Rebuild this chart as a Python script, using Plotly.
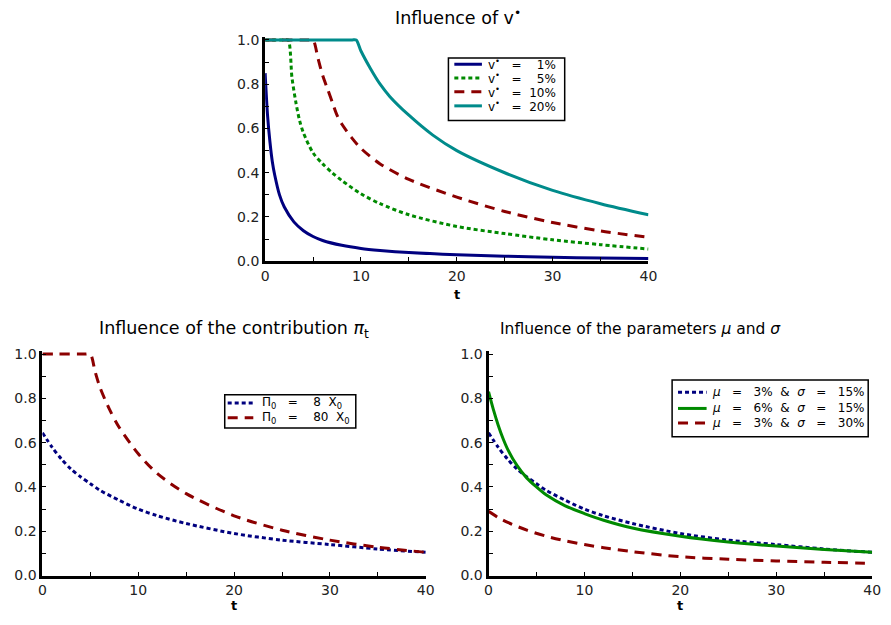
import plotly.graph_objects as go

# ---------------- data ----------------
# Top panel: influence of v*
t_v1 = [0, 0.25, 0.5, 0.75, 1, 1.5, 2, 3, 4, 5, 6, 8, 10, 12, 15, 20, 25, 30, 35, 40]
y_v1 = [0.85, 0.66, 0.54, 0.45, 0.39, 0.30, 0.245, 0.178, 0.138, 0.112, 0.094, 0.072,
        0.058, 0.049, 0.039, 0.029, 0.023, 0.018, 0.015, 0.012]
t_v5 = [0, 2.0, 2.4, 2.8, 3.2, 3.6, 4, 5, 6, 7, 8, 10, 12, 15, 20, 25, 30, 35, 40]
y_v5 = [1, 1, 1, 0.83, 0.72, 0.635, 0.58, 0.49, 0.44, 0.40, 0.365, 0.305, 0.26, 0.21,
        0.157, 0.125, 0.097, 0.075, 0.055]
t_v10 = [0, 4.5, 5.0, 5.5, 6, 6.5, 7, 7.5, 8, 9, 10, 12, 15, 20, 25, 30, 35, 40]
y_v10 = [1, 1, 1, 0.92, 0.84, 0.78, 0.72, 0.66, 0.62, 0.56, 0.51, 0.44, 0.37, 0.29,
         0.225, 0.175, 0.137, 0.108]
t_v20 = [0, 9, 9.5, 10, 11, 12, 13, 15, 17.5, 20, 25, 30, 35, 40]
y_v20 = [1, 1, 1, 0.95, 0.87, 0.80, 0.745, 0.66, 0.57, 0.5, 0.4, 0.32, 0.26, 0.21]

# Bottom-left: influence of the contribution
t_p8 = [0, 1, 2, 3, 4, 5, 6, 8, 10, 12, 15, 20, 25, 30, 35, 40]
y_p8 = [0.645, 0.58, 0.525, 0.48, 0.445, 0.415, 0.385, 0.34, 0.30, 0.27, 0.235, 0.19,
        0.16, 0.14, 0.12, 0.105]
t_p80 = [0, 4.5, 5, 5.5, 6, 7, 8, 10, 12, 15, 20, 25, 30, 35, 40]
y_p80 = [1, 1, 1, 0.92, 0.85, 0.75, 0.67, 0.55, 0.46, 0.37, 0.27, 0.205, 0.16, 0.128, 0.105]

# Bottom-right: influence of mu and sigma
t_m3s15 = t_p8
y_m3s15 = y_p8
t_m6s15 = [0, 0.5, 1, 1.5, 2, 3, 4, 5, 6, 8, 10, 12, 15, 20, 25, 30, 35, 40]
y_m6s15 = [0.83, 0.75, 0.68, 0.62, 0.57, 0.495, 0.44, 0.40, 0.365, 0.315, 0.28, 0.25,
           0.215, 0.178, 0.152, 0.133, 0.118, 0.105]
t_m3s30 = [0, 1, 2, 4, 6, 8, 10, 12, 15, 20, 25, 30, 35, 40]
y_m3s30 = [0.29, 0.262, 0.24, 0.205, 0.178, 0.157, 0.14, 0.126, 0.108, 0.085, 0.074,
           0.066, 0.06, 0.055]

x_ticks = [0, 10, 20, 30, 40]
y_ticks = [0.0, 0.2, 0.4, 0.6, 0.8, 1.0]
y_ticklabels = ["0.0", "0.2", "0.4", "0.6", "0.8", "1.0"]

NB = "\u00a0"
FS = "\u2007"  # figure space (digit width)
S2, S3 = NB * 2, NB * 3
legend_top = ["v<sup>•</sup>" + S3 + "=" + S2 + FS + "1%",
              "v<sup>•</sup>" + S3 + "=" + S2 + FS + "5%",
              "v<sup>•</sup>" + S3 + "=" + S2 + "10%",
              "v<sup>•</sup>" + S3 + "=" + S2 + "20%"]
legend_left = ["Π<sub>0</sub>" + S3 + "=" + S3 + NB + "8" + S2 + "X<sub>0</sub>",
               "Π<sub>0</sub>" + S3 + "=" + S3 + NB + "80" + S2 + "X<sub>0</sub>"]
legend_right = ["<i>μ</i>" + S3 + "=" + S3 + "3%" + S2 + "&" + S2 + "<i>σ</i>" + S3 + "=" + S3 + "15%",
                "<i>μ</i>" + S3 + "=" + S3 + "6%" + S2 + "&" + S2 + "<i>σ</i>" + S3 + "=" + S3 + "15%",
                "<i>μ</i>" + S3 + "=" + S3 + "3%" + S2 + "&" + S2 + "<i>σ</i>" + S3 + "=" + S3 + "30%"]

NAVY = "#00007f"
GREEN = "#008a00"
DARKRED = "#8b0000"
TEAL = "#008b8b"
DOT = "4px,3px"
DASH = "10px,7px"
FONT = "DejaVu Sans"
W, H = 891, 625

fig = go.Figure()


def add(x, y, name, color, dash, xa, ya):
    fig.add_trace(go.Scatter(
        x=x, y=y, name=name, mode="lines", showlegend=False,
        line=dict(color=color, width=3, dash=dash, shape="spline", smoothing=0.8),
        xaxis=xa, yaxis=ya))


top_series = [(t_v1, y_v1, NAVY, "solid"), (t_v5, y_v5, GREEN, DOT),
              (t_v10, y_v10, DARKRED, DASH), (t_v20, y_v20, TEAL, "solid")]
left_series = [(t_p8, y_p8, NAVY, DOT), (t_p80, y_p80, DARKRED, DASH)]
right_series = [(t_m3s15, y_m3s15, NAVY, DOT), (t_m6s15, y_m6s15, GREEN, "solid"),
                (t_m3s30, y_m3s30, DARKRED, DASH)]

for (x, y, c, d), name in zip(top_series, legend_top):
    add(x, y, name, c, d, "x", "y")
for (x, y, c, d), name in zip(left_series, legend_left):
    add(x, y, name, c, d, "x2", "y2")
for (x, y, c, d), name in zip(right_series, legend_right):
    add(x, y, name, c, d, "x3", "y3")


def xax(x0, x1, anchor):
    return dict(domain=[x0 / W, x1 / W], range=[0, 40], showgrid=False, zeroline=False,
                showline=True, linecolor="black", linewidth=3, ticks="inside", ticklen=4,
                tickwidth=1.2, tickcolor="black", tickvals=x_ticks, anchor=anchor,
                minor=dict(ticks="inside", tickvals=[5, 15, 25, 35], ticklen=4,
                           tickwidth=1.2, tickcolor="black"),
                tickfont=dict(family=FONT, size=14, color="#222"), fixedrange=True)


def yax(y0px, y1px, anchor):
    per = y0px - y1px
    top = y1px - 0.012 * per
    return dict(domain=[1 - y0px / H, 1 - top / H], range=[0, 1.012], showgrid=False,
                zeroline=False, showline=True, linecolor="black", linewidth=3,
                ticks="inside", ticklen=4, tickwidth=1.2, tickcolor="black",
                tickvals=y_ticks, ticktext=y_ticklabels,
                minor=dict(ticks="inside", tickvals=[0.1, 0.3, 0.5, 0.7, 0.9], ticklen=4,
                           tickwidth=1.2, tickcolor="black"),
                tickfont=dict(family=FONT, size=14, color="#222"), anchor=anchor,
                fixedrange=True)


fig.update_layout(
    width=W, height=H, margin=dict(l=0, r=0, t=0, b=0),
    plot_bgcolor="white", paper_bgcolor="white", showlegend=False,
    xaxis=xax(265, 654, "y"), yaxis=yax(261.7, 35.7, "x"),
    xaxis2=xax(39, 428, "y2"), yaxis2=yax(582.7, 356.5, "x2"),
    xaxis3=xax(491.7, 881, "y3"), yaxis3=yax(582.7, 356.5, "x3"),
)


def px(x):
    return x / W


def py(y):
    return 1 - y / H


# ---- legends drawn as boxes, sample lines and labels ----
def draw_legend(box, rows, sample_x, text_x, series, labels):
    x0, y0, x1, y1 = box
    fig.add_shape(type="rect", xref="paper", yref="paper", x0=px(x0), x1=px(x1),
                  y0=py(y1), y1=py(y0), line=dict(color="black", width=1.5),
                  fillcolor="white", layer="above")
    for yr, (x, y, c, d), lab in zip(rows, series, labels):
        fig.add_shape(type="line", xref="paper", yref="paper", x0=px(sample_x[0]),
                      x1=px(sample_x[1]), y0=py(yr), y1=py(yr),
                      line=dict(color=c, width=3, dash=d), layer="above")
        fig.add_annotation(text=lab, xref="paper", yref="paper", x=px(text_x), y=py(yr),
                           xanchor="left", yanchor="middle", showarrow=False,
                           font=dict(family=FONT, size=12, color="black"))


draw_legend((451, 54, 569, 118), [60.5, 74.5, 88.5, 103], (457, 485), 489,
            top_series, legend_top)
draw_legend((224, 398, 357, 432), [406.5, 421.5], (227, 253), 260,
            left_series, legend_left)
draw_legend((678, 383, 877, 441), [395.5, 412, 427], (684, 713), 716,
            right_series, legend_right)

# ---- titles ----
annos = [
    dict(text="Influence of v<sup>•</sup>", x=460.5, y=12, size=17.5),
    dict(text="Influence of the contribution <i>π</i><sub>t</sub>", x=233.5, y=331, size=17.5),
    dict(text="Influence of the parameters <i>μ</i> and <i>σ</i>", x=645.5, y=331, size=15.5),
]
for a in annos:
    fig.add_annotation(text=a["text"], xref="paper", yref="paper", x=px(a["x"]),
                       y=py(a["y"]), showarrow=False,
                       font=dict(family=FONT, size=a["size"], color="black"),
                       xanchor="center", yanchor="middle")

for xc, yc in [(459.5, 296), (233.5, 613), (686, 613)]:
    fig.add_annotation(text="<b>t</b>", xref="paper", yref="paper", x=px(xc), y=py(yc),
                       showarrow=False, font=dict(family=FONT, size=13, color="black"),
                       xanchor="center", yanchor="middle")

fig.write_html("out.html")
